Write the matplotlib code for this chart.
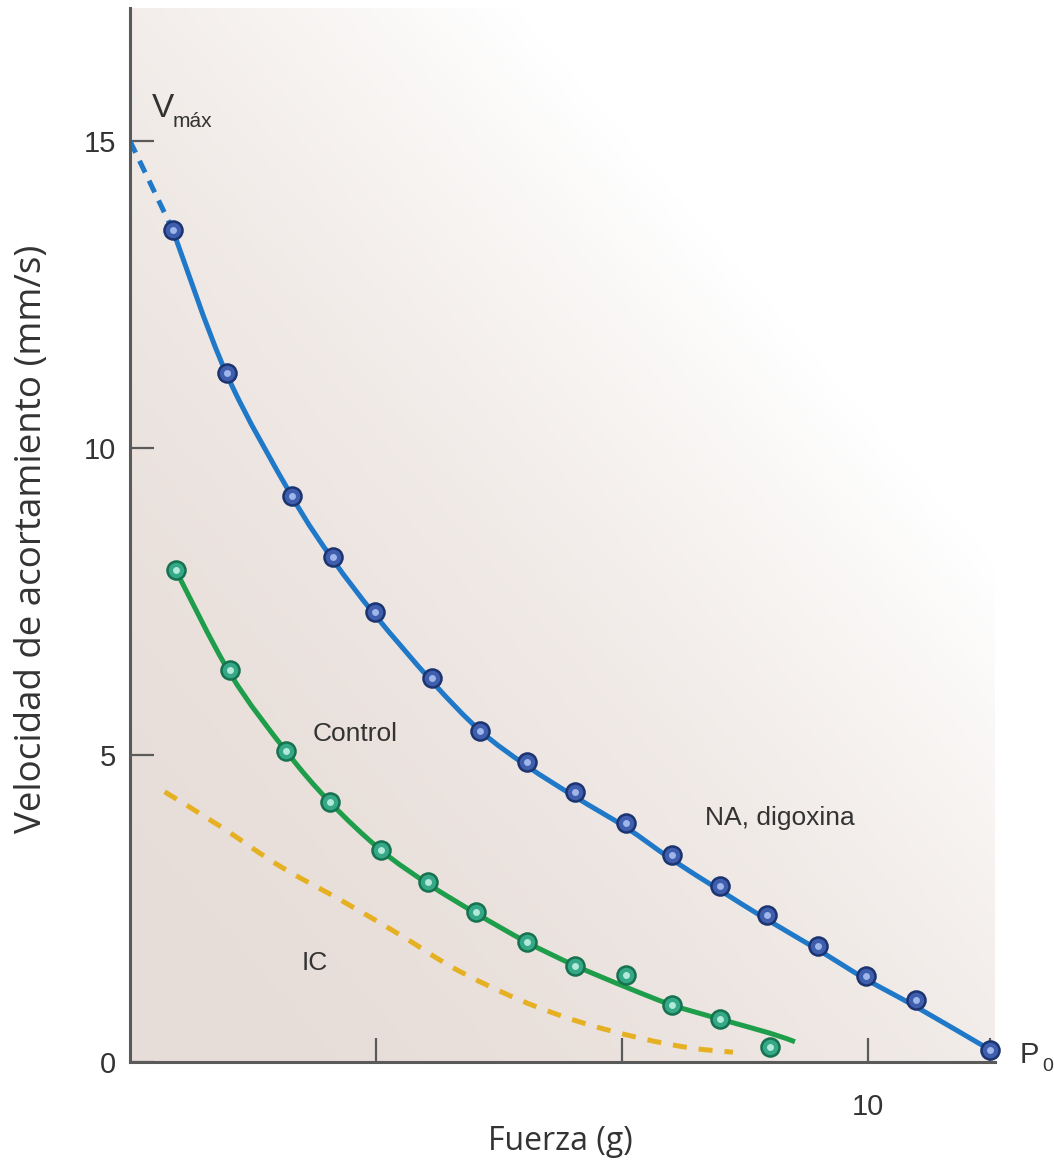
import numpy as np
import matplotlib
matplotlib.use("Agg")
import matplotlib.pyplot as plt
from matplotlib import font_manager
from matplotlib.path import Path
from matplotlib.patches import PathPatch

# ---- data ----
na_force = [0.58, 1.31, 2.20, 2.75, 3.32, 4.09, 4.74, 5.38, 6.03, 6.72, 7.34, 7.99, 8.63, 9.32, 9.97, 10.65, 11.65]
na_vel   = [13.55, 11.22, 9.22, 8.22, 7.33, 6.25, 5.39, 4.89, 4.40, 3.89, 3.37, 2.87, 2.39, 1.89, 1.40, 1.01, 0.20]

na_curve_force = [0.58, 1.31, 2.20, 2.75, 3.32, 4.09, 4.74, 5.38, 6.03, 6.72, 7.34, 7.99, 8.63, 9.32, 9.97, 10.65, 11.65]
na_curve_vel   = [13.55, 11.20, 9.20, 8.18, 7.28, 6.20, 5.40, 4.82, 4.32, 3.82, 3.30, 2.80, 2.32, 1.83, 1.35, 0.90, 0.20]

vmax_force = [0.0, 0.58]
vmax_vel   = [15.0, 13.55]

ctrl_force = [0.62, 1.36, 2.11, 2.71, 3.40, 4.04, 4.69, 5.38, 6.03, 6.72, 7.34, 7.99, 8.67]
ctrl_vel   = [8.01, 6.38, 5.07, 4.23, 3.45, 2.93, 2.44, 1.95, 1.56, 1.42, 0.93, 0.70, 0.24]

ctrl_curve_force = [0.62, 1.36, 2.11, 2.71, 3.40, 4.04, 4.69, 5.38, 6.03, 6.72, 7.34, 7.99, 8.67, 9.01]
ctrl_curve_vel   = [8.01, 6.32, 5.07, 4.23, 3.45, 2.90, 2.42, 1.95, 1.57, 1.22, 0.93, 0.70, 0.47, 0.33]

ic_force = [0.47, 1.22, 2.03, 2.85, 3.66, 4.40, 5.28, 6.10, 6.91, 7.59, 8.17]
ic_vel   = [4.40, 3.84, 3.19, 2.64, 2.07, 1.52, 1.01, 0.65, 0.39, 0.23, 0.16]

x_ticks = [10/3, 20/3, 10, 11.65]
x_tick_labels = ["", "", "10", ""]
y_ticks = [0, 5, 10, 15]
y_tick_labels = ["0", "5", "10", "15"]

# ---- fonts ----
avail = {f.name for f in font_manager.fontManager.ttflist}
narrow = "Liberation Sans Narrow" if "Liberation Sans Narrow" in avail else "Liberation Sans"
NARROW = [narrow, "DejaVu Sans"]
LABEL = ["Open Sans", "DejaVu Sans"]


def smooth_path(xs, ys):
    """Catmull-Rom through the read points, expressed as cubic Bezier path."""
    xs = np.asarray(xs, float)
    ys = np.asarray(ys, float)
    P = np.column_stack([xs, ys])
    n = len(P)
    verts = [P[0]]
    codes = [Path.MOVETO]
    for i in range(n - 1):
        p0 = P[i - 1] if i > 0 else P[i]
        p1 = P[i]
        p2 = P[i + 1]
        p3 = P[i + 2] if i + 2 < n else P[i + 1]
        c1 = p1 + (p2 - p0) / 6.0
        c2 = p2 - (p3 - p1) / 6.0
        verts += [c1, c2, p2]
        codes += [Path.CURVE4] * 3
    return Path(verts, codes)


fig = plt.figure(figsize=(10.54, 11.67), dpi=100)
ax = fig.add_axes([130/1054, 1 - 1062/1167, (995-130)/1054, (1062-8)/1167])
xmax, ymax = (995-130)/73.8, (1062-8)/61.4
ax.set_xlim(0, xmax)
ax.set_ylim(0, ymax)

# background gradient
u = np.linspace(0, 1, 300)
v = np.linspace(0, 1, 300)
U, V = np.meshgrid(u, v)
s = (U * 0.95 + V) / 1.42
a = np.clip(1 - s**2, 0, 1)
base = np.array([231, 221, 216]) / 255.0
img = np.ones((300, 300, 3)) * (1 - a[..., None]) + base * a[..., None]
ax.imshow(img, origin="lower", extent=[0, xmax, 0, ymax], aspect="auto", zorder=0)

blue = "#1f78c8"
green = "#1e9e4a"
yellow = "#e6b023"

ax.plot(vmax_force, vmax_vel, color=blue, lw=3.6, dashes=(2.6, 1.8), zorder=2, solid_capstyle="butt")
ax.add_patch(PathPatch(smooth_path(na_curve_force, na_curve_vel), fill=False, ec=blue, lw=3.6, zorder=2))
ax.add_patch(PathPatch(smooth_path(ctrl_curve_force, ctrl_curve_vel), fill=False, ec=green, lw=3.6, zorder=2))
ax.add_patch(PathPatch(smooth_path(ic_force, ic_vel), fill=False, ec=yellow, lw=3.6, ls=(0, (2.8, 2.4)), zorder=2))

ax.plot(na_force, na_vel, "o", ms=13, mfc="#3f5fae", mec="#1b3470", mew=1.8, zorder=3, clip_on=False)
ax.plot(na_force, na_vel, "o", ms=5, mfc="#9fb6ea", mec="none", zorder=4, clip_on=False)
ax.plot(ctrl_force, ctrl_vel, "o", ms=13, mfc="#35a888", mec="#16714f", mew=1.8, zorder=3, clip_on=False)
ax.plot(ctrl_force, ctrl_vel, "o", ms=5, mfc="#b2e9d8", mec="none", zorder=4, clip_on=False)

for sp in ["top", "right"]:
    ax.spines[sp].set_visible(False)
for sp in ["left", "bottom"]:
    ax.spines[sp].set_color("#5a5a5a")
    ax.spines[sp].set_linewidth(2.2)
    ax.spines[sp].set_zorder(5)

ax.set_xticks(x_ticks)
ax.set_xticklabels(x_tick_labels, family=NARROW, fontsize=21, color="#333333")
ax.set_yticks(y_ticks)
ax.set_yticklabels(y_tick_labels, family=NARROW, fontsize=21, color="#333333")
ax.tick_params(axis="both", direction="in", length=17, width=1.6, color="#5a5a5a")
ax.tick_params(axis="x", pad=22)
ax.tick_params(axis="y", pad=10)

ax.set_xlabel("Fuerza (g)", family=LABEL, fontsize=23, color="#333333")
ax.xaxis.set_label_coords(0.497, -0.060)
ax.set_ylabel("Velocidad de acortamiento (mm/s)", family=LABEL, fontsize=26.5, color="#333333")
ax.yaxis.set_label_coords(-0.093, 0.496)

ax.text(0.29, 15.39, "V", family=NARROW, fontsize=24, color="#333333", ha="left", va="baseline")
ax.text(0.58, 15.23, "máx", family=NARROW, fontsize=15, color="#333333", ha="left", va="baseline")
ax.text(12.05, 0.11, "P", family=NARROW, fontsize=21, color="#333333", ha="left", va="center", clip_on=False)
ax.text(12.36, -0.08, "0", family=NARROW, fontsize=14, color="#333333", ha="left", va="center", clip_on=False)

ax.text(3.05, 5.35, "Control", family=NARROW, fontsize=19, color="#333333", ha="center", va="center")
ax.text(8.8, 3.97, "NA, digoxina", family=NARROW, fontsize=19, color="#333333", ha="center", va="center")
ax.text(2.5, 1.62, "IC", family=NARROW, fontsize=19, color="#333333", ha="center", va="center")

fig.savefig("out.png", dpi=100, facecolor="white")
